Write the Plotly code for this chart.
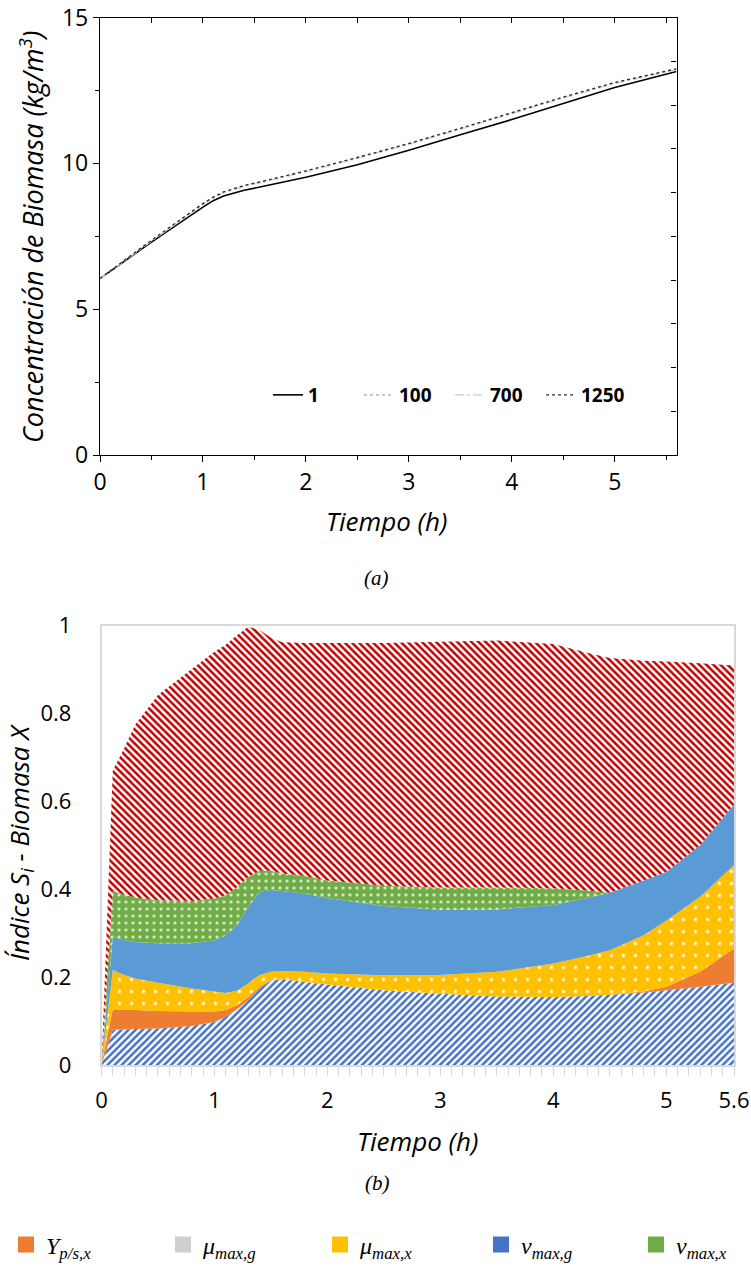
import plotly.graph_objects as go

# ---------------- Panel (a): biomass concentration ----------------
t_a = [0, 0.5, 1.0, 1.1, 1.2, 1.4, 1.6, 2.0, 2.5, 3.0, 3.5, 4.0, 4.5, 5.0, 5.6]
x_1 = [6.05, 7.30, 8.50, 8.72, 8.88, 9.08, 9.22, 9.52, 9.95, 10.45, 10.98, 11.50, 12.05, 12.60, 13.15]
x_100 = [6.05, 7.35, 8.60, 8.82, 9.00, 9.22, 9.38, 9.72, 10.18, 10.66, 11.18, 11.72, 12.25, 12.75, 13.22]
x_700 = [6.05, 7.34, 8.58, 8.81, 8.99, 9.21, 9.37, 9.71, 10.17, 10.65, 11.17, 11.71, 12.24, 12.74, 13.21]
x_1250 = [6.05, 7.36, 8.62, 8.84, 9.02, 9.24, 9.40, 9.74, 10.20, 10.68, 11.20, 11.74, 12.27, 12.77, 13.24]
series_a_names = ["1", "100", "700", "1250"]

# ---------------- Panel (b): sensitivity indices (stacked) ----------------
t_b = [0, 0.1, 0.2, 0.3, 0.5, 0.8, 1.0, 1.1, 1.2, 1.3, 1.4, 1.5, 1.6, 1.8,
       2.0, 2.5, 3.0, 3.5, 4.0, 4.3, 4.5, 4.8, 5.0, 5.3, 5.6]
s_blue_hatch = [0, 0.080, 0.081, 0.082, 0.083, 0.089, 0.098, 0.110, 0.127, 0.148, 0.174, 0.192, 0.195, 0.189,
                0.183, 0.170, 0.162, 0.156, 0.155, 0.157, 0.160, 0.165, 0.170, 0.178, 0.187]
s_yps_x = [0, 0.047, 0.045, 0.043, 0.040, 0.033, 0.023, 0.015, 0.009, 0.007, 0.004, 0.001, 0.001, 0,
           0, 0, 0, 0, 0, 0, 0, 0.002, 0.008, 0.034, 0.078]
s_mumax_g = [0] * 25
s_mumax_x = [0, 0.089, 0.079, 0.072, 0.064, 0.052, 0.046, 0.039, 0.033, 0.031, 0.027, 0.019, 0.018, 0.023,
             0.025, 0.034, 0.043, 0.056, 0.076, 0.091, 0.101, 0.128, 0.150, 0.171, 0.190]
s_numax_g = [0, 0.076, 0.079, 0.083, 0.090, 0.103, 0.117, 0.131, 0.149, 0.174, 0.189, 0.186, 0.182, 0.178,
             0.172, 0.158, 0.148, 0.142, 0.133, 0.132, 0.131, 0.125, 0.111, 0.117, 0.138]
s_numax_x = [0, 0.104, 0.104, 0.101, 0.098, 0.096, 0.095, 0.091, 0.087, 0.068, 0.048, 0.044, 0.040, 0.040,
             0.040, 0.046, 0.051, 0.050, 0.038, 0.017, 0, 0, 0, 0, 0]
s_red_hatch = [0, 0.274, 0.332, 0.394, 0.467, 0.528, 0.561, 0.570, 0.573, 0.569, 0.548, 0.530, 0.526, 0.530,
               0.540, 0.552, 0.559, 0.562, 0.556, 0.541, 0.534, 0.500, 0.479, 0.414, 0.316]

tickvals_b = [0, 1, 2, 3, 4, 5, 5.6]
ticktext_b = ["0", "1", "2", "3", "4", "5", "5.6"]

legend_b_names = ["<i>Y</i><sub><i>p/s,x</i></sub>", "<i>μ</i><sub><i>max,g</i></sub>",
                  "<i>μ</i><sub><i>max,x</i></sub>", "<i>ν</i><sub><i>max,g</i></sub>",
                  "<i>ν</i><sub><i>max,x</i></sub>"]
legend_b_colors = ["#ED7D31", "#D0CECE", "#FFC000", "#4472C4", "#70AD47"]
legend_b_groups = ["legend2", "legend2", "legend2", "legend3", "legend3"]

W, H = 751, 1268
fig = go.Figure()

# ---- panel (a) lines
styles_a = [
    dict(color="black", width=1.6, dash="solid"),
    dict(color="#BFBFBF", width=1.6, dash="dot"),
    dict(color="#D9D9D9", width=1.6, dash="dashdot"),
    dict(color="#303030", width=1.4, dash="3px,3px"),
]
for name, ys, st in zip(series_a_names, [x_1, x_100, x_700, x_1250], styles_a):
    fig.add_trace(go.Scatter(x=t_a, y=ys, mode="lines", name=name, line=st,
                             xaxis="x", yaxis="y", legend="legend"))
# helper so the mirrored tick axes render
fig.add_trace(go.Scatter(x=[None], y=[None], xaxis="x2", yaxis="y2", showlegend=False))

# ---- panel (b) stacked areas
layers = [
    ("Serie 1", s_blue_hatch, dict(shape="/", fgcolor="#4472C4", bgcolor="white", size=5, solidity=0.5, fillmode="replace")),
    ("Yp/s,x", s_yps_x, None, "#ED7D31"),
    ("μmax,g", s_mumax_g, None, "#D0CECE"),
    ("μmax,x", s_mumax_x, dict(shape=".", fgcolor="white", bgcolor="#FFC000", size=12, solidity=0.06, fillmode="replace")),
    ("νmax,g", s_numax_g, None, "#5B9BD5"),
    ("νmax,x", s_numax_x, dict(shape=".", fgcolor="white", bgcolor="#70AD47", size=7, solidity=0.12, fillmode="replace")),
    ("Serie 7", s_red_hatch, dict(shape="\\", fgcolor="#C00000", bgcolor="white", size=5, solidity=0.5, fillmode="replace")),
]
for item in layers:
    name, vals, pat = item[0], item[1], item[2]
    kw = dict(x=t_b, y=vals, name=name, stackgroup="one", mode="none",
              xaxis="x3", yaxis="y3", showlegend=False, line=dict(width=0))
    if pat is not None:
        kw["fillpattern"] = pat
        kw["fillcolor"] = "white"
    else:
        kw["fillcolor"] = item[3]
    fig.add_trace(go.Scatter(**kw))

# ---- panel (b) legend entries
for name, col, lg in zip(legend_b_names, legend_b_colors, legend_b_groups):
    fig.add_trace(go.Scatter(x=[None], y=[None], mode="markers", name=name,
                             marker=dict(symbol="square", size=18, color=col),
                             xaxis="x3", yaxis="y3", legend=lg))

font_ax = "Open Sans"
ax_a_common = dict(showgrid=False, zeroline=False, showline=True, linecolor="black", linewidth=1.3,
                   tickcolor="black", tickwidth=1.3)
leg_b_common = dict(yanchor="middle", orientation="h", bgcolor="rgba(0,0,0,0)",
                    font=dict(family="Liberation Serif", size=24, color="black"),
                    entrywidthmode="pixels", itemsizing="trace", traceorder="normal")

fig.update_layout(
    width=W, height=H, template="none",
    margin=dict(l=0, r=0, t=0, b=0, autoexpand=False),
    paper_bgcolor="white", plot_bgcolor="white",
    font=dict(family=font_ax, color="black"),
    xaxis=dict(domain=[100 / W, 676.5 / W], anchor="y", range=[0, 5.6], tickmode="linear", tick0=0, dtick=1,
               ticks="outside", ticklen=6, tickfont=dict(size=23, family=font_ax),
               minor=dict(tick0=0, dtick=0.5, ticks="outside", ticklen=4, tickcolor="black", tickwidth=1.2),
               **ax_a_common),
    yaxis=dict(domain=[1 - 455 / H, 1 - 17.5 / H], anchor="x", range=[0, 15], tickmode="linear", tick0=0, dtick=5,
               ticks="outside", ticklen=6, tickfont=dict(size=23, family=font_ax),
               minor=dict(tick0=0, dtick=2.5, ticks="outside", ticklen=4, tickcolor="black", tickwidth=1.2),
               **ax_a_common),
    xaxis2=dict(overlaying="x", side="top", anchor="y", range=[0, 5.6], tickmode="linear", tick0=0.5, dtick=0.5,
                ticks="inside", ticklen=5, showticklabels=False, **ax_a_common),
    yaxis2=dict(overlaying="y", side="right", anchor="x", range=[0, 15], tickmode="linear", tick0=1.5, dtick=1.5,
                ticks="inside", ticklen=5, showticklabels=False, **ax_a_common),
    xaxis3=dict(domain=[101.5 / W, 734 / W], anchor="y3", range=[0, 5.6], tickmode="array",
                tickvals=tickvals_b, ticktext=ticktext_b, ticks="outside", ticklen=9, tickcolor="#D9D9D9",
                tickwidth=1.2, tickfont=dict(size=22, family=font_ax), ticklabelstandoff=6,
                minor=dict(tick0=0, dtick=0.1, ticks="outside", ticklen=9, tickcolor="#D9D9D9", tickwidth=1.2),
                showgrid=False, zeroline=False, showline=True, linecolor="#D9D9D9", linewidth=1.5, mirror=True),
    yaxis3=dict(domain=[1 - 1065 / H, 1 - 625.5 / H], anchor="x3", range=[0, 1], tickmode="linear", tick0=0,
                dtick=0.2, ticks="", tickfont=dict(size=22, family=font_ax), ticklabelstandoff=24,
                showgrid=False, zeroline=False, showline=True, linecolor="#D9D9D9", linewidth=1.5, mirror=True),
    legend=dict(x=268 / W, y=1 - 395 / H, xanchor="left", yanchor="middle", orientation="h",
                bgcolor="rgba(0,0,0,0)", font=dict(family=font_ax, size=19, color="black", weight="bold"),
                entrywidth=46, entrywidthmode="pixels", tracegroupgap=0, traceorder="normal"),
    legend2=dict(x=6 / W, y=1 - 1245 / H, xanchor="left", entrywidth=112, **leg_b_common),
    legend3=dict(x=481 / W, y=1 - 1245 / H, xanchor="left", entrywidth=110, **leg_b_common),
    showlegend=True,
)

ann = [
    dict(text="<i>Concentración de Biomasa (kg/m<sup>3</sup>)</i>", x=32 / W, y=1 - 237 / H, textangle=-90,
         font=dict(size=27, family=font_ax)),
    dict(text="<i>Tiempo (h)</i>", x=386 / W, y=1 - 521 / H, font=dict(size=26, family=font_ax)),
    dict(text="<i>(a)</i>", x=376 / W, y=1 - 578 / H, font=dict(size=21, family="Liberation Serif")),
    dict(text="<i>Índice S<sub>i</sub> - Biomasa X</i>", x=20 / W, y=1 - 843 / H, textangle=-90,
         font=dict(size=26, family=font_ax)),
    dict(text="<i>Tiempo (h)</i>", x=417 / W, y=1 - 1141 / H, font=dict(size=26, family=font_ax)),
    dict(text="<i>(b)</i>", x=377 / W, y=1 - 1183 / H, font=dict(size=21, family="Liberation Serif")),
]
for a in ann:
    fig.add_annotation(xref="paper", yref="paper", showarrow=False, xanchor="center", yanchor="middle", **a)

fig.write_html("out.html", config={"displayModeBar": False},
               post_script="document.body.style.margin='0';document.body.style.overflow='hidden';")
